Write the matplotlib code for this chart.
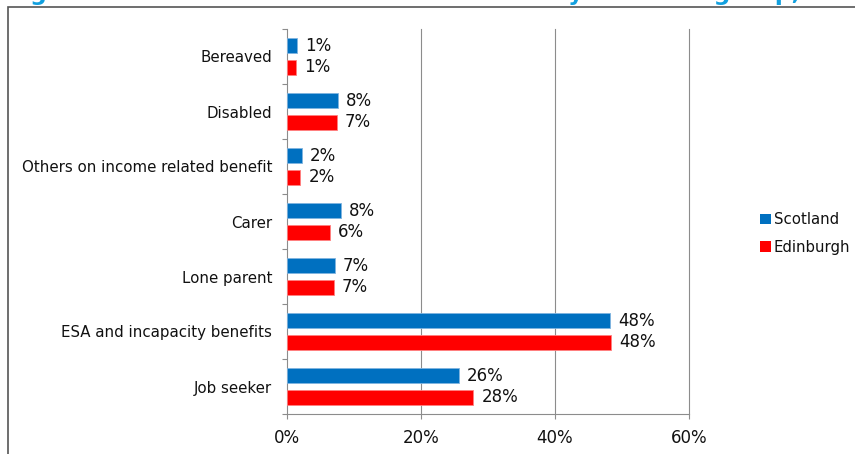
import numpy as np
import matplotlib.pyplot as plt
from matplotlib.patches import Patch, Rectangle
from matplotlib.ticker import FuncFormatter

# client groups, bottom to top
groups = ["Job seeker", "ESA and incapacity benefits", "Lone parent", "Carer",
          "Others on income related benefit", "Disabled", "Bereaved"]
scotland = [25.7, 48.2, 7.1, 8.1, 2.2, 7.6, 1.45]
edinburgh = [27.8, 48.4, 7.0, 6.4, 2.0, 7.4, 1.3]
series_names = ["Scotland", "Edinburgh"]
series_colors = ["#0070C0", "#FF0000"]
edge_colors = ["#7FB4E0", "#FF8080"]
x_ticks = [0, 20, 40, 60]
title = "Figure 10: Out of work benefit claimants by claimant group, Edinburgh and Scotland"

W, H = 855, 454
fig = plt.figure(figsize=(W / 100, H / 100), dpi=100)

# outer chart frame (runs off the right and bottom edges)
fig.patches.append(Rectangle((8 / W, -0.1), 1.2, 1 - 7 / H + 0.1,
                             transform=fig.transFigure, fill=False,
                             edgecolor="#555555", linewidth=1.2))

# heading, mostly above the top edge
fig.text(6 / W, 1.0, title, color="#12A0DF", fontsize=16.8,
         fontweight="bold", va="baseline", ha="left")

ax = fig.add_axes([287 / W, 1 - 414 / H, (689 - 287) / W, (414 - 29) / H])

y = np.arange(len(groups))
h = 0.27
off = 0.195
for vals, sign, col, ec, name in zip([scotland, edinburgh], [1, -1],
                                     series_colors, edge_colors, series_names):
    bars = ax.barh(y + sign * off, vals, height=h, color=col, edgecolor=ec,
                   linewidth=0.6, label=name, zorder=3)
    for b, v in zip(bars, vals):
        ax.annotate(f"{v:.0f}%", (b.get_width(), b.get_y() + b.get_height() / 2),
                    xytext=(5.8, 0), textcoords="offset points",
                    va="center", ha="left", fontsize=12, color="#111111")

ax.set_xlim(0, 60)
ax.set_ylim(-0.5, len(groups) - 0.5)
ax.set_xticks(x_ticks)
ax.xaxis.set_major_formatter(FuncFormatter(lambda v, p: f"{v:.0f}%"))
ax.set_yticks(y)
ax.set_yticklabels(groups)
ax.set_yticks(np.arange(len(groups) + 1) - 0.5, minor=True)

# vertical gridlines, the last one sits on the axes edge
for xv in x_ticks[1:]:
    ax.axvline(xv, color="#8C8C8C", linewidth=0.8, zorder=0, clip_on=False)
for s in ["top", "right"]:
    ax.spines[s].set_visible(False)
for s in ["left", "bottom"]:
    ax.spines[s].set_color("#8C8C8C")
    ax.spines[s].set_linewidth(0.8)

ax.tick_params(axis="y", which="major", length=0, pad=10.8, labelsize=10.8,
               labelcolor="#111111")
ax.tick_params(axis="y", which="minor", length=3.5, width=0.8, color="#8C8C8C")
ax.tick_params(axis="x", length=3.5, width=0.8, color="#8C8C8C", pad=7,
               labelsize=12, labelcolor="#111111")

handles = [Patch(facecolor=c, edgecolor="none") for c in series_colors]
fig.legend(handles, series_names, loc="center left",
           bbox_to_anchor=(750 / W, 1 - 233.5 / H), frameon=False, fontsize=10.7,
           handlelength=0.7, handleheight=0.7, handletextpad=0.2,
           labelspacing=0.85, labelcolor="#111111", borderpad=0.2)

fig.savefig("out.png", dpi=100)
